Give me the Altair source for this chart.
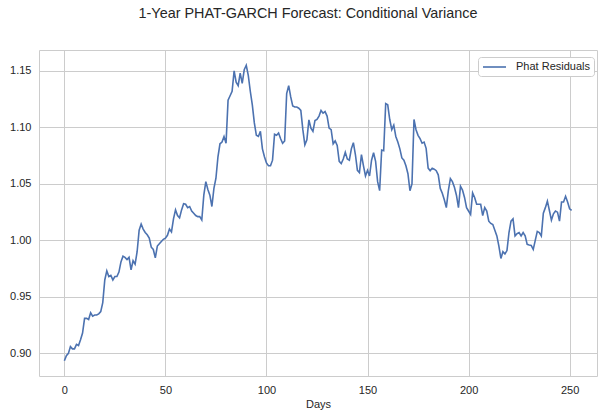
import altair as alt
import pandas as pd

# Forecast horizon (trading days) and the conditional variance path
days = list(range(252))
variance = [
    0.8935, 0.898, 0.900, 0.906, 0.904, 0.904, 0.908, 0.907, 0.912, 0.918,
    0.931, 0.931, 0.930, 0.936, 0.933, 0.934, 0.934, 0.935, 0.937, 0.945,
    0.965, 0.973, 0.968, 0.969, 0.965, 0.968, 0.968, 0.972, 0.981, 0.986,
    0.985, 0.983, 0.985, 0.974, 0.982, 0.979, 0.990, 1.009, 1.0145, 1.010,
    1.007, 1.005, 1.002, 0.994, 0.992, 0.9845, 0.995, 0.997, 0.999, 1.001,
    1.002, 1.0045, 1.010, 1.0075, 1.019, 1.027, 1.022, 1.020, 1.027, 1.0325,
    1.032, 1.029, 1.030, 1.026, 1.024, 1.022, 1.021, 1.021, 1.018, 1.040,
    1.052, 1.045, 1.040, 1.030, 1.046, 1.055, 1.074, 1.0855, 1.087, 1.092,
    1.086, 1.124, 1.128, 1.132, 1.150, 1.140, 1.137, 1.148, 1.139, 1.151,
    1.155, 1.146, 1.132, 1.120, 1.104, 1.093, 1.092, 1.0965, 1.081, 1.074,
    1.0685, 1.066, 1.066, 1.071, 1.094, 1.093, 1.095, 1.090, 1.086, 1.088,
    1.130, 1.137, 1.127, 1.119, 1.118, 1.118, 1.117, 1.115, 1.098, 1.0846,
    1.089, 1.1067, 1.0994, 1.0965, 1.106, 1.107, 1.110, 1.115, 1.1126, 1.114,
    1.110, 1.0994, 1.098, 1.0855, 1.088, 1.084, 1.070, 1.068, 1.072, 1.078,
    1.072, 1.071, 1.081, 1.0865, 1.076, 1.062, 1.060, 1.076, 1.066, 1.057,
    1.062, 1.057, 1.071, 1.0776, 1.070, 1.052, 1.044, 1.080, 1.0794, 1.121,
    1.120, 1.107, 1.098, 1.102, 1.092, 1.087, 1.081, 1.073, 1.071, 1.066,
    1.059, 1.044, 1.050, 1.107, 1.098, 1.093, 1.090, 1.086, 1.087, 1.0815,
    1.064, 1.0617, 1.0638, 1.063, 1.0617, 1.058, 1.046, 1.0417, 1.036, 1.029,
    1.044, 1.0547, 1.052, 1.047, 1.040, 1.029, 1.048, 1.0446, 1.038, 1.029,
    1.026, 1.023, 1.042, 1.038, 1.032, 1.032, 1.032, 1.022, 1.029, 1.026,
    1.017, 1.015, 1.014, 1.009, 1.004, 0.995, 0.984, 0.990, 0.988, 0.991,
    1.007, 1.017, 1.019, 1.004, 1.006, 1.007, 1.004, 1.007, 1.004, 0.9965,
    0.996, 0.9956, 0.992, 1.000, 1.008, 1.007, 1.004, 1.024, 1.029, 1.0347,
    1.0265, 1.018, 1.0235, 1.026, 1.025, 1.017, 1.034, 1.034, 1.039, 1.034,
    1.028, 1.0265,
]
series_name = "Phat Residuals"
x_ticks = [0, 50, 100, 150, 200, 250]
y_ticks = [0.90, 0.95, 1.00, 1.05, 1.10, 1.15]

df = pd.DataFrame({"day": days, "value": variance, "series": series_name})

TEXT = "#262626"
GRID = "#cccccc"
FONT = "Liberation Sans"

chart = (
    alt.Chart(df)
    .mark_line(strokeWidth=1.6)
    .encode(
        x=alt.X(
            "day:Q",
            scale=alt.Scale(domain=[-12.55, 263.55], nice=False, zero=False),
            axis=alt.Axis(values=x_ticks, title="Days", format="d",
                          labelPadding=8, titlePadding=3),
        ),
        y=alt.Y(
            "value:Q",
            scale=alt.Scale(domain=[0.8800, 1.1685], nice=False, zero=False),
            axis=alt.Axis(values=y_ticks, title=None, format=".2f",
                          labelPadding=8),
        ),
        color=alt.Color(
            "series:N",
            scale=alt.Scale(domain=[series_name], range=["#4c72b0"]),
            legend=alt.Legend(
                title=None,
                orient="none",
                legendX=439,
                legendY=7,
                # short horizontal stroke drawn rightwards from the entry's left edge
                symbolType="M-1,0H3.6",
                symbolSize=100,
                symbolStrokeWidth=1.6,
                symbolFillColor="transparent",
                labelOffset=22,
                labelFontSize=11,
                labelFont=FONT,
                labelColor=TEXT,
                padding=4,
                strokeColor=GRID,
                fillColor="white",
                cornerRadius=3,
            ),
        ),
    )
    .properties(
        width=558,
        height=326,
        autosize=alt.AutoSizeParams(type="none"),
        padding={"left": 39, "top": 50, "right": 6, "bottom": 41},
        title=alt.TitleParams(
            "1-Year PHAT-GARCH Forecast: Conditional Variance",
            fontSize=14.4,
            font=FONT,
            fontWeight="normal",
            color=TEXT,
            anchor="middle",
            dx=-10,
            offset=29,
        ),
    )
    .configure_view(stroke=GRID, strokeWidth=1)
    .configure_axis(
        grid=True,
        gridColor=GRID,
        gridWidth=1,
        domain=False,
        ticks=False,
        labelFont=FONT,
        labelFontSize=11,
        labelColor=TEXT,
        titleFont=FONT,
        titleFontSize=11,
        titleFontWeight="normal",
        titleColor=TEXT,
    )
)

chart.save("out.html", embed_options={"renderer": "svg", "actions": False})
